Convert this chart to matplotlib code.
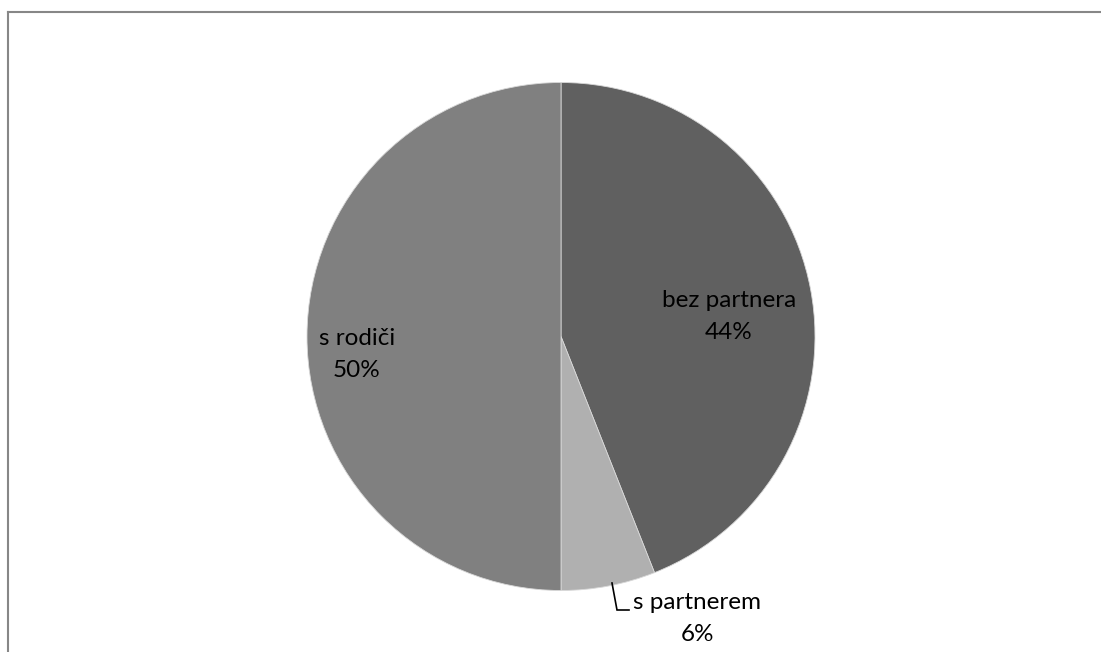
import matplotlib.pyplot as plt
from matplotlib.lines import Line2D

# Living situation shares
labels = ['bez partnera', 's partnerem', 's rodiči']
values = [44, 6, 50]
colors = ['#606060', '#b0b0b0', '#808080']

W, H = 1101, 652
fig = plt.figure(figsize=(W / 100, H / 100), dpi=100)
ax = fig.add_axes([0, 0, 1, 1])
ax.set_xlim(0, W)
ax.set_ylim(0, H)
ax.set_aspect('equal')
ax.axis('off')

cx, cy, r = 561, H - 336.5, 254
wedges, _ = ax.pie(values, colors=colors, startangle=90, counterclock=False,
                   center=(cx, cy), radius=r, frame=True,
                   wedgeprops=dict(edgecolor='#d8d8d8', linewidth=0.6))
ax.set_xlim(0, W)
ax.set_ylim(0, H)
ax.axis('off')

font = dict(family=['Lato', 'DejaVu Sans'], fontsize=17.5, color='#000000',
            ha='center', va='center', linespacing=1.6)

# label positions (pixel offsets from the pie centre)
offsets = {'bez partnera': (168, 20), 's rodiči': (-204, -18), 's partnerem': (136, -282)}
total = sum(values)
for lab, val in zip(labels, values):
    dx, dy = offsets[lab]
    ax.text(cx + dx, cy + dy, f'{lab}\n{round(100 * val / total)}%', **font)

# leader line for the small slice
ax.plot([612, 617, 629], [H - 583, H - 610, H - 610], color='black', lw=1.2,
        solid_joinstyle='miter')

# chart area border (left and top edges)
fig.add_artist(Line2D([7.5 / W, 7.5 / W], [0, 1 - 11.5 / H], color='#878787', lw=1.5))
fig.add_artist(Line2D([7.5 / W, 1], [1 - 11.5 / H, 1 - 11.5 / H], color='#878787', lw=1.5))

fig.savefig('out.png', dpi=100)
